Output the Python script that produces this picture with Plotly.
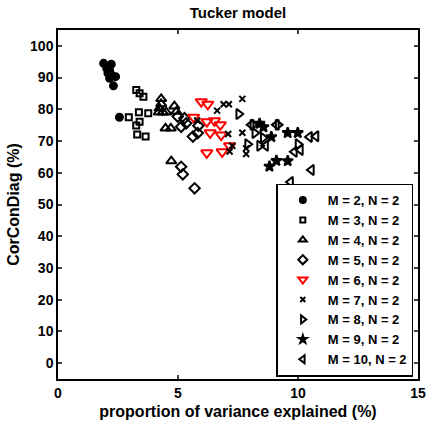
import plotly.graph_objects as go

# ---- data ----
m2_x = [1.90, 2.22, 2.03, 2.15, 2.08, 2.22, 2.40, 2.15, 2.31, 2.56]
m2_y = [94.5, 94.2, 92.9, 92.3, 91.4, 90.9, 90.3, 89.8, 87.4, 77.5]

m3_x = [3.26, 3.40, 3.56, 2.95, 3.37, 3.76, 3.40, 3.26, 3.30, 3.65]
m3_y = [86.1, 85.1, 84.0, 77.5, 79.1, 78.8, 76.1, 74.9, 72.1, 71.4]

m4_x = [4.30, 4.30, 4.23, 4.37, 4.20, 4.51, 4.85, 4.93, 4.48, 4.70, 4.72]
m4_y = [83.3, 81.7, 80.3, 79.1, 79.1, 79.1, 81.0, 79.3, 74.0, 74.0, 63.7]

m5_x = [4.99, 5.27, 5.13, 5.34, 5.62, 5.82, 5.85, 5.13, 5.20, 5.69]
m5_y = [77.7, 77.2, 74.5, 75.6, 71.4, 72.5, 74.8, 61.9, 59.5, 55.1]

m6_x = [5.97, 6.24, 5.65, 6.20, 6.52, 6.76, 6.34, 6.80, 6.20, 6.84, 7.15]
m6_y = [82.4, 81.6, 77.5, 76.1, 76.4, 75.1, 72.6, 71.9, 66.3, 66.6, 68.5]

m7_x = [6.90, 7.12, 7.68, 6.63, 7.09, 7.68, 7.26, 7.15, 7.84, 7.84, 5.80]
m7_y = [81.6, 81.6, 83.3, 79.6, 72.2, 72.6, 68.5, 66.7, 67.7, 65.9, 76.5]

m8_x = [7.53, 8.12, 8.20, 7.90, 8.40, 9.17, 10.00, 8.55]
m8_y = [78.5, 75.1, 72.5, 69.0, 68.5, 75.1, 69.0, 71.0]

m9_x = [8.56, 8.89, 9.57, 9.99, 8.81, 9.10, 9.57, 8.40]
m9_y = [74.4, 71.3, 72.6, 72.6, 62.0, 63.8, 63.7, 75.5]

m10_x = [8.05, 9.10, 10.48, 10.75, 9.85, 10.10, 10.56, 9.69, 8.65]
m10_y = [75.1, 75.1, 71.3, 71.5, 66.6, 67.2, 60.9, 57.1, 68.5]

labels = ["M = 2, N = 2", "M = 3, N = 2", "M = 4, N = 2", "M = 5, N = 2",
          "M = 6, N = 2", "M = 7, N = 2", "M = 8, N = 2", "M = 9, N = 2",
          "M = 10, N = 2"]

series = [(m2_x, m2_y), (m3_x, m3_y), (m4_x, m4_y), (m5_x, m5_y), (m6_x, m6_y),
          (m7_x, m7_y), (m8_x, m8_y), (m9_x, m9_y), (m10_x, m10_y)]

symbols = ["circle", "square-open", "triangle-up-open", "diamond-open",
           "triangle-down-open", "x-thin-open", "triangle-right-open", "star",
           "triangle-left-open"]
sizes = [7, 6, 9, 8, 10, 6, 9, 8, 9]
leg_sizes = [6, 5, 7, 7, 8, 5, 7, 6, 7]
colors = ["black", "black", "black", "black", "red", "black", "black", "black", "black"]

fig = go.Figure()
for (xs, ys), lab, sym, sz, col in zip(series, labels, symbols, sizes, colors):
    fig.add_trace(go.Scatter(
        x=xs, y=ys, mode="markers", name=lab, showlegend=False,
        marker=dict(symbol=sym, size=sz, color=col,
                    line=dict(color=col, width=2)),
    ))
# legend entries (small markers as in the reference)
for lab, sym, sz, col in zip(labels, symbols, leg_sizes, colors):
    fig.add_trace(go.Scatter(
        x=[None], y=[None], mode="markers", name=lab, showlegend=True,
        marker=dict(symbol=sym, size=sz, color=col,
                    line=dict(color=col, width=2)),
    ))

font_main = "Liberation Sans, Arial, sans-serif"
fig.update_layout(
    width=430, height=422,
    margin=dict(l=58, r=12, t=30, b=43, autoexpand=False),
    paper_bgcolor="white", plot_bgcolor="white",
    font=dict(family=font_main, color="black"),
    title=dict(text="<b>Tucker model</b>", x=0.5, xref="paper", xanchor="center",
               y=1, yref="container", yanchor="top", pad=dict(t=7),
               font=dict(size=15, color="black")),
    showlegend=True,
    legend=dict(x=0.987, y=0.007, xanchor="right", yanchor="bottom",
                bordercolor="black", borderwidth=1.5, bgcolor="white",
                font=dict(size=13, family=font_main, color="black", weight="bold"),
                tracegroupgap=0, itemsizing="trace", itemwidth=40),
)
fig.update_xaxes(range=[0, 15], tickvals=[0, 5, 10, 15], ticks="inside", ticklen=4,
                 tickwidth=1.5, showline=True, linecolor="black", linewidth=1.5,
                 mirror="ticks", showgrid=False, zeroline=False, automargin=False,
                 tickfont=dict(size=14, weight="bold"),
                 title=dict(text="<b>proportion of variance explained (%)</b>",
                            font=dict(size=16), standoff=6))
fig.update_yaxes(range=[-5, 105], tickvals=list(range(0, 101, 10)), ticks="inside",
                 ticklen=4, tickwidth=1.5, showline=True, linecolor="black",
                 linewidth=1.5, mirror="ticks", showgrid=False, zeroline=False,
                 automargin=False,
                 tickfont=dict(size=14, weight="bold"),
                 title=dict(text="<b>CorConDiag (%)</b>", font=dict(size=16), standoff=6))

fig.write_html("out.html")
